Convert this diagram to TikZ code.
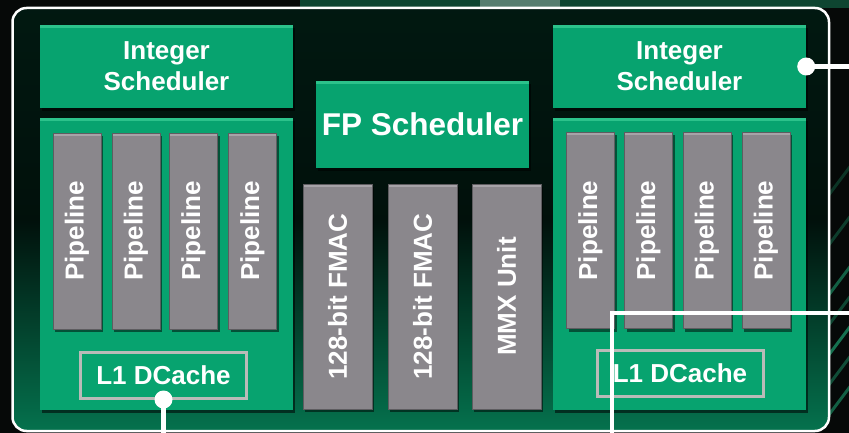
\documentclass[tikz,border=0pt]{standalone}
\usepackage{fontspec}
\setmainfont{Liberation Sans}
\usetikzlibrary{shadows}
\definecolor{amdgreen}{HTML}{07A36F}
\definecolor{amdgreenhi}{HTML}{2CC28B}
\definecolor{amdgray}{HTML}{8A878C}
\definecolor{amdgrayhi}{HTML}{A6A3A8}
\definecolor{amdgrayedge}{HTML}{5E5C60}
\definecolor{cacheedge}{HTML}{B9BBB8}
\definecolor{bgdark}{HTML}{060908}
\definecolor{streak}{HTML}{1FB57F}
\tikzset{
  boxfont/.style={text=white, font=\bfseries\fontsize{26}{31}\selectfont},
  greenbox/.style={fill=amdgreen, draw=none, inner sep=0pt, boxfont, align=center,
    drop shadow={shadow xshift=2pt, shadow yshift=-3pt, opacity=0.55, fill=black},
    path picture={\fill[amdgreenhi] (path picture bounding box.north west) rectangle ([yshift=-3pt]path picture bounding box.north east);}},
  graybox/.style={fill=amdgray, draw=amdgrayedge, line width=0.8pt, inner sep=0pt,
    drop shadow={shadow xshift=2pt, shadow yshift=-3pt, opacity=0.5, fill=black},
    path picture={\fill[amdgrayhi] (path picture bounding box.north west) rectangle ([yshift=-3pt]path picture bounding box.north east);}},
  pipebox/.style={graybox, minimum width=48pt, minimum height=196pt},
  fmacbox/.style={graybox, minimum width=69pt, minimum height=225pt},
  vlabel/.style={boxfont, rotate=90, inner sep=0pt},
  cachebox/.style={fill=amdgreen, draw=cacheedge, line width=3pt, inner sep=0pt, boxfont,
    minimum width=166pt, minimum height=46pt},
  wire/.style={draw=white, line width=4.5pt},
  dotend/.style={fill=white, circle, inner sep=0pt, minimum size=18pt}
}
\begin{document}
\begin{tikzpicture}[x=1pt, y=-1pt]
\useasboundingbox (0,0) rectangle (849,433);
% background
\fill[bgdark] (0,0) rectangle (849,433);
\begin{scope}
  \clip (0,0) rectangle (849,433);
  \foreach \a/\o in {300/0.5, 330/0.35, 360/0.6, 390/0.4, 420/0.5, 250/0.3, 200/0.25}{
    \draw[streak, opacity=\o, line width=3pt] (825,\a) -- (870,\a-60);
  }
  \fill[streak, opacity=0.35] (300,0) rectangle (849,8);
  \fill[white, opacity=0.3] (480,0) rectangle (560,8);
\end{scope}
% frame
\shade[top color=black!85!amdgreen, bottom color=amdgreen!70!black, middle color=black!90!amdgreen, rounded corners=14pt]
  (12.5,8) rectangle (829,431);
\draw[white, line width=2.5pt, rounded corners=14pt] (12.5,8) rectangle (829,431);

% left core
\node[greenbox, minimum width=253pt, minimum height=83pt] (is1) at (166.5,66.5) {Integer\\Scheduler};
\node[greenbox, minimum width=253pt, minimum height=292pt] (cl1) at (166.5,264) {};
\foreach \n/\x in {p1/77, p2/136, p3/193.5, p4/252.5}{
  \node[pipebox] (\n) at (\x,231) {};
  \node[vlabel] (\n t) at (\n) {Pipeline};
}
\node[cachebox] (l1a) at (163.5,375) {L1 DCache};

% FP unit
\node[greenbox, minimum width=213pt, minimum height=87pt, font=\bfseries\fontsize{31.5}{34}\selectfont] (fps) at (422.5,124.5) {FP Scheduler};
\node[fmacbox] (f1) at (337.5,296.5) {};
\node[vlabel] (f1t) at (f1) {128-bit FMAC};
\node[fmacbox] (f2) at (422.5,296.5) {};
\node[vlabel] (f2t) at (f2) {128-bit FMAC};
\node[fmacbox] (mmx) at (506.5,296.5) {};
\node[vlabel] (mmxt) at (mmx) {MMX Unit};

% right core
\node[greenbox, minimum width=253pt, minimum height=83pt] (is2) at (679.5,66.5) {Integer\\Scheduler};
\node[greenbox, minimum width=253pt, minimum height=292pt] (cl2) at (679.5,264) {};
\foreach \n/\x in {q1/590.5, q2/648.5, q3/707, q4/766}{
  \node[pipebox] (\n) at (\x,230.5) {};
  \node[vlabel] (\n t) at (\n) {Pipeline};
}
\node[cachebox] (l1b) at (680,373.5) {L1 DCache};

% connectors
\coordinate (e1) at (163.5,433);
\coordinate (e2) at (849,66.5);
\coordinate (e3a) at (612,433);
\coordinate (e3b) at (849,313);
\draw[wire] (l1a.south) -- (e1);
\node[dotend] (d1) at (l1a.south) {};
\draw[wire] (is2.east) -- (e2);
\node[dotend] (d2) at (is2.east) {};
\draw[wire] (e3a) |- (e3b);
\end{tikzpicture}
\end{document}
